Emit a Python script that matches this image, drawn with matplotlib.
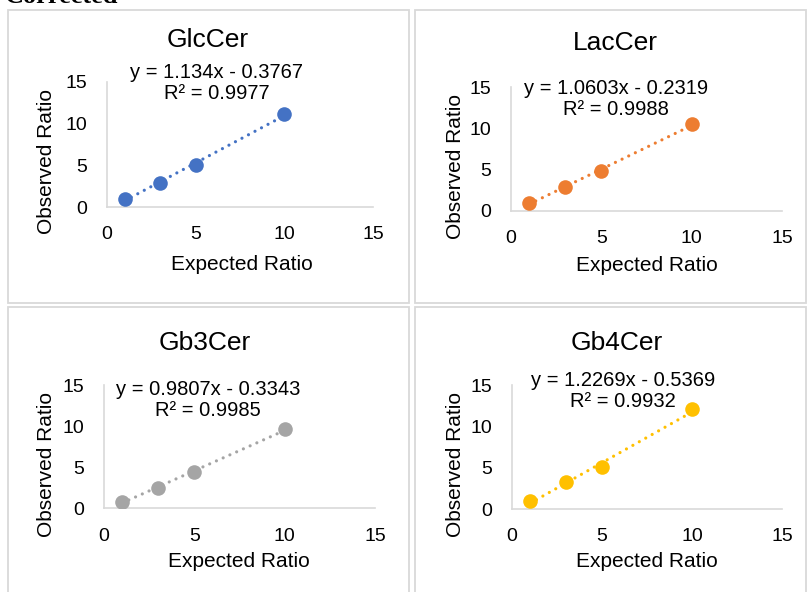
import matplotlib
matplotlib.use("Agg")
import matplotlib.pyplot as plt
from matplotlib.patches import Rectangle
import numpy as np

# ---- data ----
expected = [1, 3, 5, 10]
names = ["GlcCer", "LacCer", "Gb3Cer", "Gb4Cer"]
glccer_obs = [0.92, 2.88, 5.0, 11.15]
laccer_obs = [0.93, 2.87, 4.89, 10.5]
gb3cer_obs = [0.8, 2.43, 4.42, 9.65]
gb4cer_obs = [0.97, 3.27, 5.12, 12.05]
slopes = [1.134, 1.0603, 0.9807, 1.2269]
intercepts = [-0.3767, -0.2319, -0.3343, -0.5369]
r_squared = ["0.9977", "0.9988", "0.9985", "0.9932"]
colors = ["#4472C4", "#ED7D31", "#A5A5A5", "#FFC000"]
ticks = [0, 5, 10, 15]
observed = [glccer_obs, laccer_obs, gb3cer_obs, gb4cer_obs]

W, H = 807, 592
fig = plt.figure(figsize=(W / 100, H / 100), dpi=100)
plt.rcParams["font.family"] = ["Liberation Sans", "DejaVu Sans"]

def px_rect(x0, y0, x1, y1):
    return [x0 / W, 1 - y1 / H, (x1 - x0) / W, (y1 - y0) / H]

# panel frames (pixel boxes)
frames = [(8, 10, 409, 303), (415, 10, 806, 303), (8, 307, 409, 600), (415, 307, 806, 600)]
for (x0, y0, x1, y1) in frames:
    fig.patches.append(Rectangle((x0 / W, 1 - y1 / H), (x1 - x0) / W, (y1 - y0) / H,
                                 transform=fig.transFigure, fill=False,
                                 edgecolor="#d9d9d9", linewidth=1.3))

# axes boxes: x0, y(15), x(15), y(0) in pixels
axes_px = [(107, 82, 373, 207), (511, 87.3, 782, 211), (104, 385, 375, 508.3), (512, 385, 782, 509)]

# text placement in axes coordinates
title_pos = [(0.38, 1.336), (0.384, 1.356), (0.373, 1.338), (0.388, 1.336)]
eq_pos = [(0.412, 0.99), (0.387, 0.904), (0.385, 0.878), (0.412, 0.953)]
xlab_pos = [(0.506, -0.464), (0.503, -0.437), (0.496, -0.433), (0.501, -0.425)]
ylab_pos = [(-0.2256, 0.364), (-0.205, 0.358), (-0.211, 0.359), (-0.21, 0.361)]

for i in range(4):
    ax = fig.add_axes(px_rect(*axes_px[i]))
    x = np.array(expected, dtype=float)
    y = observed[i]
    xl = np.array([min(expected), max(expected)], dtype=float)
    ax.plot(xl, slopes[i] * xl + intercepts[i], linestyle=(0, (0.01, 2.3)),
            dash_capstyle="round", color=colors[i], linewidth=2.3, zorder=2)
    ax.plot(x, y, "o", color=colors[i], markersize=10.5, markeredgewidth=0, zorder=3)
    ax.set_xlim(0, 15)
    ax.set_ylim(0, 15)
    ax.set_xticks(ticks)
    ax.set_yticks(ticks)
    ax.tick_params(length=0, labelsize=14, colors="black")
    ax.tick_params(axis="x", pad=14)
    ax.tick_params(axis="y", pad=14)
    for s in ["top", "right"]:
        ax.spines[s].set_visible(False)
    for s in ["left", "bottom"]:
        ax.spines[s].set_color("#d9d9d9")
        ax.spines[s].set_linewidth(1.2)
    ax.patch.set_alpha(0)
    ax.text(*title_pos[i], names[i], transform=ax.transAxes, ha="center", va="center",
            fontsize=19)
    sign = "-" if intercepts[i] < 0 else "+"
    eq = f"y = {slopes[i]}x {sign} {abs(intercepts[i])}\nR² = {r_squared[i]}"
    ax.text(*eq_pos[i], eq, transform=ax.transAxes, ha="center", va="center",
            fontsize=14.5, linespacing=1.12)
    ax.text(*xlab_pos[i], "Expected Ratio", transform=ax.transAxes, ha="center",
            va="center", fontsize=15)
    ax.text(*ylab_pos[i], "Observed Ratio", transform=ax.transAxes, ha="center",
            va="center", rotation=90, fontsize=15)

fig.text(5 / W, 1 - 3 / H, "Corrected", family=["Liberation Serif", "DejaVu Serif"],
         fontweight="bold", fontsize=19, ha="left", va="baseline")

fig.savefig("out.png", dpi=100)
